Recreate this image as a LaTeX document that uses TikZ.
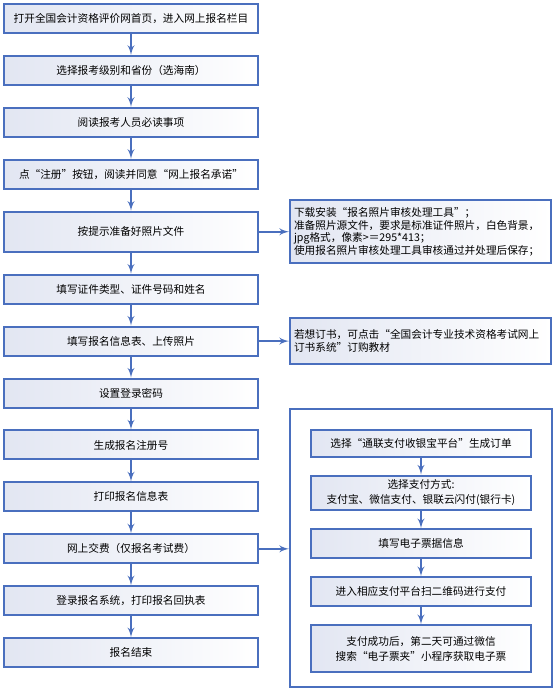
\documentclass[tikz,border=0pt]{standalone}
\usepackage{fontspec}
\setmainfont{Noto Sans CJK SC}
\usetikzlibrary{arrows,chains,positioning}
\definecolor{boxblue}{HTML}{4A6FBE}
\definecolor{boxfill}{HTML}{E2E6F2}
\tikzset{every picture/.style={
  >=latex'                      % LaTeX style arrows.
  }
}

\begin{document}
\begin{tikzpicture}[
    start chain=1 going below,
    node distance=15.7pt,
    st/.style={
      on chain=1,
      draw=boxblue,
      line width=1.5pt,
      left color=boxfill,
      right color=white,
      minimum width=190.5pt,
      minimum height=21.75pt,
      font=\fontsize{8pt}{11pt}\selectfont,
      align=center
    },
    nt/.style={
      draw=boxblue,
      line width=1.5pt,
      left color=boxfill,
      right color=white,
      text width=189.75pt,
      inner sep=3pt,
      align=left,
      font=\fontsize{8pt}{9.5pt}\selectfont
    },
    ps/.style={
      on chain=2,
      draw=boxblue,
      line width=1.5pt,
      left color=boxfill,
      right color=white,
      minimum width=165pt,
      minimum height=21.75pt,
      font=\fontsize{8pt}{11pt}\selectfont,
      align=center
    },
    fl/.style={->,boxblue,line width=1.5pt}]

    \useasboundingbox (0,0) rectangle (417pt,-517.5pt);

    % Helper macro.
    \def\dn#1#2{ \draw[fl] (#1) -- (#2) }

    % Draw the main registration steps.
    \node[st,at={(98.25pt,-13.875pt)}] (open)
      {打开全国会计资格评价网首页，进入网上报名栏目};
    \node[st] (level) {选择报考级别和省份（选海南）};
    \node[st] (notice) {阅读报考人员必读事项};
    \node[st] (reg) {点“注册”按钮，阅读并同意“网上报名承诺”};
    \node[st,minimum height=30pt] (photo) {按提示准备好照片文件};
    \node[st] (idcard) {填写证件类型、证件号码和姓名};
    \node[st] (form) {填写报名信息表、上传照片};
    \node[st] (pwd) {设置登录密码};
    \node[st] (regno) {生成报名注册号};
    \node[st] (print) {打印报名信息表};
    \node[st] (fee) {网上交费（仅报名考试费）};
    \node[st] (receipt) {登录报名系统，打印报名回执表};
    \node[st] (done) {报名结束};

    \dn{open}{level};
    \dn{level}{notice};
    \dn{notice}{reg};
    \dn{reg}{photo};
    \dn{photo}{idcard};
    \dn{idcard}{form};
    \dn{form}{pwd};
    \dn{pwd}{regno};
    \dn{regno}{print};
    \dn{print}{fee};
    \dn{fee}{receipt};
    \dn{receipt}{done};

    % Draw the side notes.
    \node[nt,minimum height=47.25pt,right=22.5pt of photo] (photonote)
      {下载安装“报名照片审核处理工具”；\\
       准备照片源文件，要求是标准证件照片，白色背景，\\
       jpg格式，像素>＝295*413；\\
       使用报名照片审核处理工具审核通过并处理后保存；};
    \node[nt,minimum height=34.5pt,right=22.5pt of form] (booknote)
      {若想订书，可点击“全国会计专业技术资格考试网上\\
       订书系统”订购教材};
    \dn{photo}{photonote};
    \dn{form}{booknote};

    % Draw the payment steps.
    \node[draw=boxblue,line width=1.5pt,fill=white,minimum width=196.5pt,
      minimum height=208.5pt,right=22.5pt of fee,yshift=1pt] (pay) {};
    \draw[fl] (fee.east) -- (fee.east -| pay.west);

    \begin{scope}[node distance=12.75pt,start chain=2 going below]
      \node[ps,minimum height=20.25pt,below=15.75pt of pay.north] (order)
        {选择“通联支付收银宝平台”生成订单};
      \node[ps] (method) {选择支付方式:\\支付宝、微信支付、银联云闪付(银行卡)};
      \node[ps] (invoice) {填写电子票据信息};
      \node[ps] (scan) {进入相应支付平台扫二维码进行支付};
      \node[ps,minimum height=35.25pt] (ticket)
        {支付成功后，第二天可通过微信\\搜索“电子票夹”小程序获取电子票};
    \end{scope}

    \dn{order}{method};
    \dn{method}{invoice};
    \dn{invoice}{scan};
    \dn{scan}{ticket};

  \end{tikzpicture}
\end{document}
